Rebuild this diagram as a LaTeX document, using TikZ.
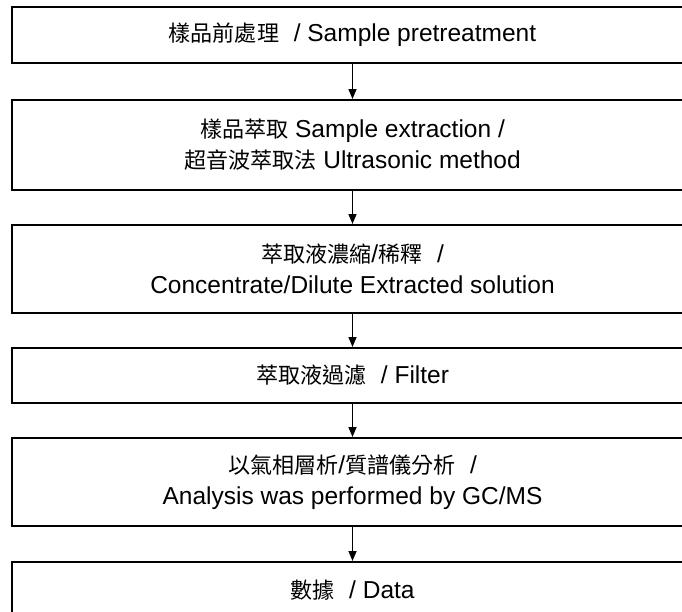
\documentclass[tikz,border=0pt]{standalone}
\usepackage{fontspec}
\setmainfont{Liberation Sans}
\newfontfamily\cjk[Scale=0.9]{Noto Sans CJK TC}
\usetikzlibrary{arrows.meta}

\begin{document}
\begin{tikzpicture}[x=1pt,y=-1pt,->,>={Triangle[length=10pt,width=8pt]},line width=1.5pt,
  stage node/.style={draw,line width=2pt,minimum width=681pt,align=center,inner sep=0pt,font=\fontsize{24.5}{31}\selectfont}]
  \useasboundingbox (0,0) rectangle (682,611);
  \node[stage node,minimum height=56pt] (1) at (352.5,35) {{\cjk 樣品前處理}\hspace{0.6em}/ Sample pretreatment};
  \node[stage node,minimum height=90pt] (2) at (352.5,145) {{\cjk 樣品萃取} Sample extraction /\\{\cjk 超音波萃取法} Ultrasonic method};
  \node[stage node,minimum height=88pt] (3) at (352.5,269) {{\cjk 萃取液濃縮}/{\cjk 稀釋}\hspace{0.6em}/\\Concentrate/Dilute Extracted solution};
  \node[stage node,minimum height=55pt] (4) at (352.5,375.5) {{\cjk 萃取液過濾}\hspace{0.6em}/ Filter};
  \node[stage node,minimum height=88pt] (5) at (352.5,482) {{\cjk 以氣相層析}/{\cjk 質譜儀分析}\hspace{0.6em}/\\Analysis was performed by GC/MS};
  \node[stage node,minimum height=56pt] (6) at (352.5,590) {{\cjk 數據}\hspace{0.6em}/ Data};

\path
  (1) edge (2)
  (2) edge (3)
  (3) edge (4)
  (4) edge (5)
  (5) edge (6);
\end{tikzpicture}
\end{document}
